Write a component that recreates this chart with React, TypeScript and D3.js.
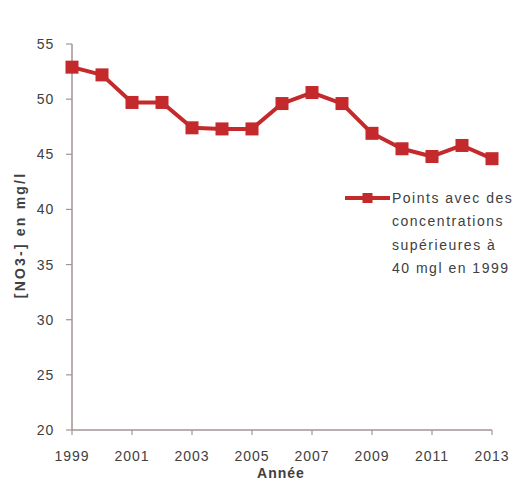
import React from "react";
import * as d3 from "d3";

// Nitrate concentration series (mg/l) for monitoring points above 40 mg/l in 1999
const years = [1999, 2000, 2001, 2002, 2003, 2004, 2005, 2006, 2007, 2008, 2009, 2010, 2011, 2012, 2013];
const nitrate = [52.9, 52.2, 49.7, 49.7, 47.4, 47.3, 47.3, 49.6, 50.6, 49.6, 46.9, 45.5, 44.8, 45.8, 44.6];
const xTicks = [1999, 2001, 2003, 2005, 2007, 2009, 2011, 2013];
const yTicks = [20, 25, 30, 35, 40, 45, 50, 55];
const legendLines = ["Points avec des", "concentrations", "supérieures à", "40 mgl en 1999"];

const W = 530;
const H = 482;
const RED = "#c4292b";
const AXIS = "#a39494";
const TEXT = "#404040";
const FONT = "'Liberation Sans', Arial, sans-serif";

export default function App() {
  const x = d3.scaleLinear().domain([1999, 2013]).range([72, 492]);
  const y = d3.scaleLinear().domain([20, 55]).range([430, 44]);
  const line = d3
    .line<number>()
    .x((_, i) => x(years[i]))
    .y((d) => y(d));

  const m = 13;
  const lx0 = 345;
  const lx1 = 390;
  const ly = 198;

  return (
    <svg
      width={W}
      height={H}
      style={{ position: "absolute", left: 0, top: 0, background: "#fff" }}
      fontFamily={FONT}
    >
      {/* y axis */}
      <line x1={x(1999)} x2={x(1999)} y1={y(55)} y2={y(20)} stroke={AXIS} strokeWidth={1.5} />
      {yTicks.map((t) => (
        <g key={t}>
          <line x1={x(1999) - 6} x2={x(1999)} y1={y(t)} y2={y(t)} stroke={AXIS} strokeWidth={1.2} />
          <text x={54} y={y(t)} dy="0.36em" textAnchor="end" fontSize={14} letterSpacing={0.8} fill={TEXT}>
            {t}
          </text>
        </g>
      ))}

      {/* x axis */}
      <line x1={x(1999)} x2={x(2013)} y1={y(20)} y2={y(20)} stroke={AXIS} strokeWidth={1.5} />
      {xTicks.map((t) => (
        <g key={t}>
          <line x1={x(t)} x2={x(t)} y1={y(20)} y2={y(20) + 5} stroke={AXIS} strokeWidth={1.2} />
          <text x={x(t)} y={461} textAnchor="middle" fontSize={14} letterSpacing={1} fill={TEXT}>
            {t}
          </text>
        </g>
      ))}

      {/* axis titles */}
      <text x={281} y={478} textAnchor="middle" fontSize={14} fontWeight="bold" letterSpacing={1} fill={TEXT}>
        Année
      </text>
      <text
        transform={`translate(25,235) rotate(-90)`}
        textAnchor="middle"
        fontSize={14}
        fontWeight="bold"
        letterSpacing={2.2}
        fill={TEXT}
      >
        [NO3-] en mg/l
      </text>

      {/* series */}
      <path d={line(nitrate) ?? ""} fill="none" stroke={RED} strokeWidth={4} strokeLinejoin="round" />
      {nitrate.map((v, i) => (
        <rect key={years[i]} x={x(years[i]) - m / 2} y={y(v) - m / 2} width={m} height={m} fill={RED} />
      ))}

      {/* legend */}
      <line x1={lx0} x2={lx1} y1={ly} y2={ly} stroke={RED} strokeWidth={4} />
      <rect x={(lx0 + lx1) / 2 - 5} y={ly - 5} width={10} height={10} fill={RED} />
      {legendLines.map((s, i) => (
        <text key={s} x={392} y={ly + i * 23.3} dy="0.36em" fontSize={14} letterSpacing={1.5} fill={TEXT}>
          {s}
        </text>
      ))}
    </svg>
  );
}
